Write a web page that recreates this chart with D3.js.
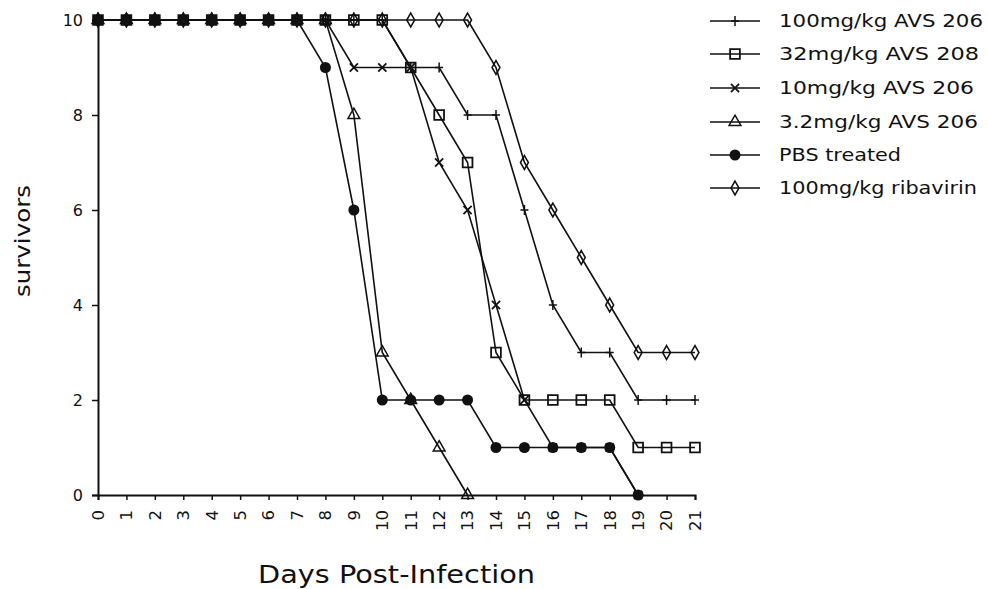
<!DOCTYPE html>
<html><head><meta charset="utf-8">
<script src="https://cdn.jsdelivr.net/npm/d3@7"></script>
<style>body{margin:0;background:#fff} svg{display:block}</style>
</head><body>
<svg id="c" width="988" height="589"></svg>
<script>
const days = d3.range(0, 22);
const yTicks = [0, 2, 4, 6, 8, 10];
const seriesNames = ["100mg/kg AVS 206", "32mg/kg AVS 208", "10mg/kg AVS 206", "3.2mg/kg AVS 206", "PBS treated", "100mg/kg ribavirin"];
const s100 = [10,10,10,10,10,10,10,10,10,10,10,9,9,8,8,6,4,3,3,2,2,2];
const s32  = [10,10,10,10,10,10,10,10,10,10,10,9,8,7,3,2,2,2,2,1,1,1];
const s10  = [10,10,10,10,10,10,10,10,10,9,9,9,7,6,4,2,1,1,1,0,null,null];
const s3   = [10,10,10,10,10,10,10,10,10,8,3,2,1,0,null,null,null,null,null,null,null,null];
const pbs  = [10,10,10,10,10,10,10,10,9,6,2,2,2,2,1,1,1,1,1,0,null,null];
const riba = [10,10,10,10,10,10,10,10,10,10,10,10,10,10,9,7,6,5,4,3,3,3];
const seriesValues = [s100, s32, s10, s3, pbs, riba];
const markerKinds = ["plus", "square", "x", "triangle", "dot", "diamond"];

const svg = d3.select("#c");
const FONT = "DejaVu Sans, sans-serif";
const x = d3.scaleLinear().domain([0, 21]).range([98, 695]);
const y = d3.scaleLinear().domain([0, 10]).range([495, 20]);

function drawMarker(g, kind) {
  if (kind === "plus") {
    g.append("path").attr("d", "M0,-5V5M-4,0H4").attr("stroke", "#111").attr("stroke-width", 1.5).attr("fill", "none");
  } else if (kind === "square") {
    g.append("path").attr("d", d3.symbol(d3.symbolSquare, 95)()).attr("fill", "none").attr("stroke", "#111").attr("stroke-width", 1.8);
  } else if (kind === "x") {
    g.append("path").attr("d", d3.symbol(d3.symbolX, 45)()).attr("fill", "none").attr("stroke", "#111").attr("stroke-width", 1.8);
  } else if (kind === "triangle") {
    g.append("path").attr("d", d3.symbol(d3.symbolTriangle, 60)()).attr("fill", "none").attr("stroke", "#111").attr("stroke-width", 1.5);
  } else if (kind === "dot") {
    g.append("circle").attr("r", 5.5).attr("fill", "#111");
  } else if (kind === "diamond") {
    g.append("path").attr("d", d3.symbol(d3.symbolDiamond, 55)()).attr("fill", "none").attr("stroke", "#111").attr("stroke-width", 1.5);
  }
}

// axes
const yAxis = d3.axisLeft(y).tickValues(yTicks).tickSize(6).tickPadding(9).tickFormat(d3.format("d"));
const gy = svg.append("g").attr("transform", "translate(98,0)").call(yAxis);
gy.select(".domain").attr("stroke", "#111").attr("stroke-width", 2);
gy.selectAll(".tick line").attr("stroke", "#111").attr("stroke-width", 1.5);
gy.selectAll(".tick text").attr("font-family", FONT).attr("font-size", 16).attr("fill", "#111");

const xAxis = d3.axisBottom(x).tickValues(days).tickSize(5).tickFormat(d => String(d));
const gx = svg.append("g").attr("transform", "translate(0,495)").call(xAxis);
gx.select(".domain").attr("stroke", "#111").attr("stroke-width", 2);
gx.selectAll(".tick line").attr("stroke", "#111").attr("stroke-width", 1.5);
gx.selectAll(".tick text").attr("font-family", FONT).attr("font-size", 15).attr("fill", "#111")
  .attr("transform", "rotate(-90)").attr("x", -15).attr("y", 0).attr("dy", "0.36em").attr("text-anchor", "end")
  .attr("textLength", d => String(d).length * 10.5).attr("lengthAdjust", "spacingAndGlyphs");

// axis titles
svg.append("text").attr("font-family", FONT).attr("font-size", 22).attr("fill", "#111")
  .attr("text-anchor", "middle").attr("transform", "translate(30,241) rotate(-90)")
  .attr("textLength", 112).attr("lengthAdjust", "spacingAndGlyphs").text("survivors");
svg.append("text").attr("font-family", FONT).attr("font-size", 24).attr("fill", "#111")
  .attr("x", 258).attr("y", 583).attr("textLength", 277).attr("lengthAdjust", "spacingAndGlyphs").text("Days Post-Infection");

// lines
const line = d3.line().defined(d => d[1] !== null).x(d => x(d[0])).y(d => y(d[1]));
seriesValues.forEach((vals, i) => {
  const pts = days.map(d => [d, vals[d]]);
  svg.append("path").datum(pts).attr("d", line).attr("fill", "none").attr("stroke", "#111").attr("stroke-width", 1.6);
});
seriesValues.forEach((vals, i) => {
  days.forEach(d => {
    if (vals[d] === null) return;
    const g = svg.append("g").attr("transform", `translate(${x(d)},${y(vals[d])})`);
    drawMarker(g, markerKinds[i]);
  });
});

// legend
const legY = [21, 54, 88, 122, 155, 188];
const legW = [204, 200, 195, 199, 122, 198];
const leg = svg.append("g");
seriesNames.forEach((name, i) => {
  const g = leg.append("g").attr("transform", `translate(0,${legY[i]})`);
  g.append("line").attr("x1", 710).attr("x2", 760).attr("y1", 0).attr("y2", 0).attr("stroke", "#111").attr("stroke-width", 1.6);
  const m = g.append("g").attr("transform", "translate(735,0)");
  drawMarker(m, markerKinds[i]);
  g.append("text").attr("x", 779).attr("y", 0).attr("dy", "0.36em").attr("font-family", FONT).attr("font-size", 17).attr("fill", "#111")
    .attr("textLength", legW[i]).attr("lengthAdjust", "spacingAndGlyphs").text(name);
});
</script>
</body></html>
